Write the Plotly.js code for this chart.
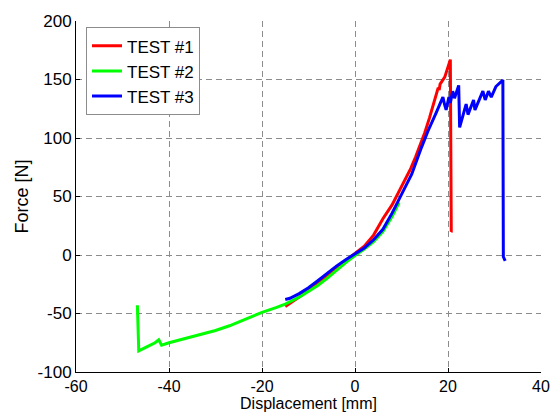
<!DOCTYPE html>
<html>
<head>
<meta charset="utf-8">
<script src="https://cdn.plot.ly/plotly-3.0.1.min.js"></script>
<style>
  html, body { margin: 0; padding: 0; background: #fff; }
  #chart { width: 555px; height: 413px; }
</style>
</head>
<body>
<div id="chart"></div>
<script>
// Force-displacement curves for three specimens
const test1X = [-15.0, -14, -12, -10, -8, -6, -4, -2, 0, 2, 4, 6, 8, 10, 12, 13, 14, 15, 16, 17, 17.9, 18.1, 18.3, 19.3, 20.0, 20.5, 20.7, 20.9];
const test1Y = [-44, -41.5, -36, -30, -24, -17.5, -11, -5, 1, 7.5, 17, 31, 43, 58, 74, 83.5, 93.5, 104.5, 117, 131, 143, 141, 146, 152, 160, 167, 20, 20.5];

const test2X = [-46.8, -46.5, -45, -43, -42.2, -41.6, -40, -37, -34, -30, -27, -24, -20, -17, -15, -12, -10, -8, -6, -4, -2, 0, 2, 4, 6, 8, 9.5];
const test2Y = [-43, -82, -79, -75, -72.5, -77, -75, -72, -69, -64.5, -60.5, -55.5, -49, -45, -42, -36, -31, -26, -20, -13, -6.5, -0.5, 5, 11.5, 20, 33, 45];

const test3X = [-15.0, -14, -12, -10, -8, -6, -4, -2, 0, 2, 4, 6, 8, 9.3, 11, 12.2, 14.3, 15.7, 17.4, 18.2, 18.9, 19.3, 19.6, 20.2, 20.5, 21.0, 21.4, 22.3, 22.5, 23.9, 24.3, 25.5, 25.8, 27.5, 28.0, 28.7, 29.3, 30.3, 31.8, 31.9, 32.3];
const test3Y = [-38, -37, -33, -28, -22, -15.5, -9.5, -4, 1, 6, 13, 22, 36, 46, 60, 69, 92, 106, 121, 128, 135, 128, 124, 135, 130, 140, 134, 145, 109, 129, 120, 132.5, 124, 140, 132.5, 140, 135, 144, 149.5, -1.5, -5];

const seriesNames = ['TEST #1', 'TEST #2', 'TEST #3'];
const seriesColors = ['#ff0000', '#00ff00', '#0000ff'];

const xTicks = [-60, -40, -20, 0, 20, 40];
const xTickLabels = ['-60', '-40', '-20', '0', '20', '40'];
const yTicks = [-100, -50, 0, 50, 100, 150, 200];
const yTickLabels = ['-100', '-50', '0', '50', '100', '150', '200'];

const font = 'Liberation Sans, Arial, sans-serif';

const traces = [
  [test1X, test1Y],
  [test2X, test2Y],
  [test3X, test3Y]
].map((d, i) => ({
  x: d[0], y: d[1],
  type: 'scatter', mode: 'lines',
  name: seriesNames[i],
  line: { color: seriesColors[i], width: 3 }
}));

const axisBase = {
  showgrid: true,
  gridcolor: '#8c8c8c',
  gridwidth: 1,
  griddash: '6px,4px',
  showline: true,
  linecolor: '#000',
  linewidth: 1,
  mirror: false,
  zeroline: false,
  ticks: 'inside',
  ticklen: 4,
  tickcolor: '#000',
  tickfont: { family: font, size: 17, color: '#000' }
};

const layout = {
  width: 555, height: 413,
  margin: { l: 76, r: 14, t: 21, b: 41 },
  paper_bgcolor: '#fff',
  plot_bgcolor: '#fff',
  showlegend: true,
  legend: {
    x: 0.0215, y: 0.982, xanchor: 'left', yanchor: 'top',
    bgcolor: '#fff', bordercolor: '#8c8c8c', borderwidth: 1,
    font: { family: font, size: 17, color: '#000' },
    itemwidth: 30, tracegroupgap: 0
  },
  xaxis: Object.assign({}, axisBase, {
    range: [-60, 40], tickvals: xTicks, ticktext: xTickLabels,
    tickfont: { family: font, size: 16, color: '#000' },
    title: { text: 'Displacement [mm]', font: { family: font, size: 16, color: '#000' }, standoff: 0 }
  }),
  yaxis: Object.assign({}, axisBase, {
    range: [-100, 200], tickvals: yTicks, ticktext: yTickLabels,
    title: { text: 'Force [N]', font: { family: font, size: 18, color: '#000' }, standoff: 4 }
  })
};

Plotly.newPlot('chart', traces, layout, { displayModeBar: false, staticPlot: true });
</script>
</body>
</html>
